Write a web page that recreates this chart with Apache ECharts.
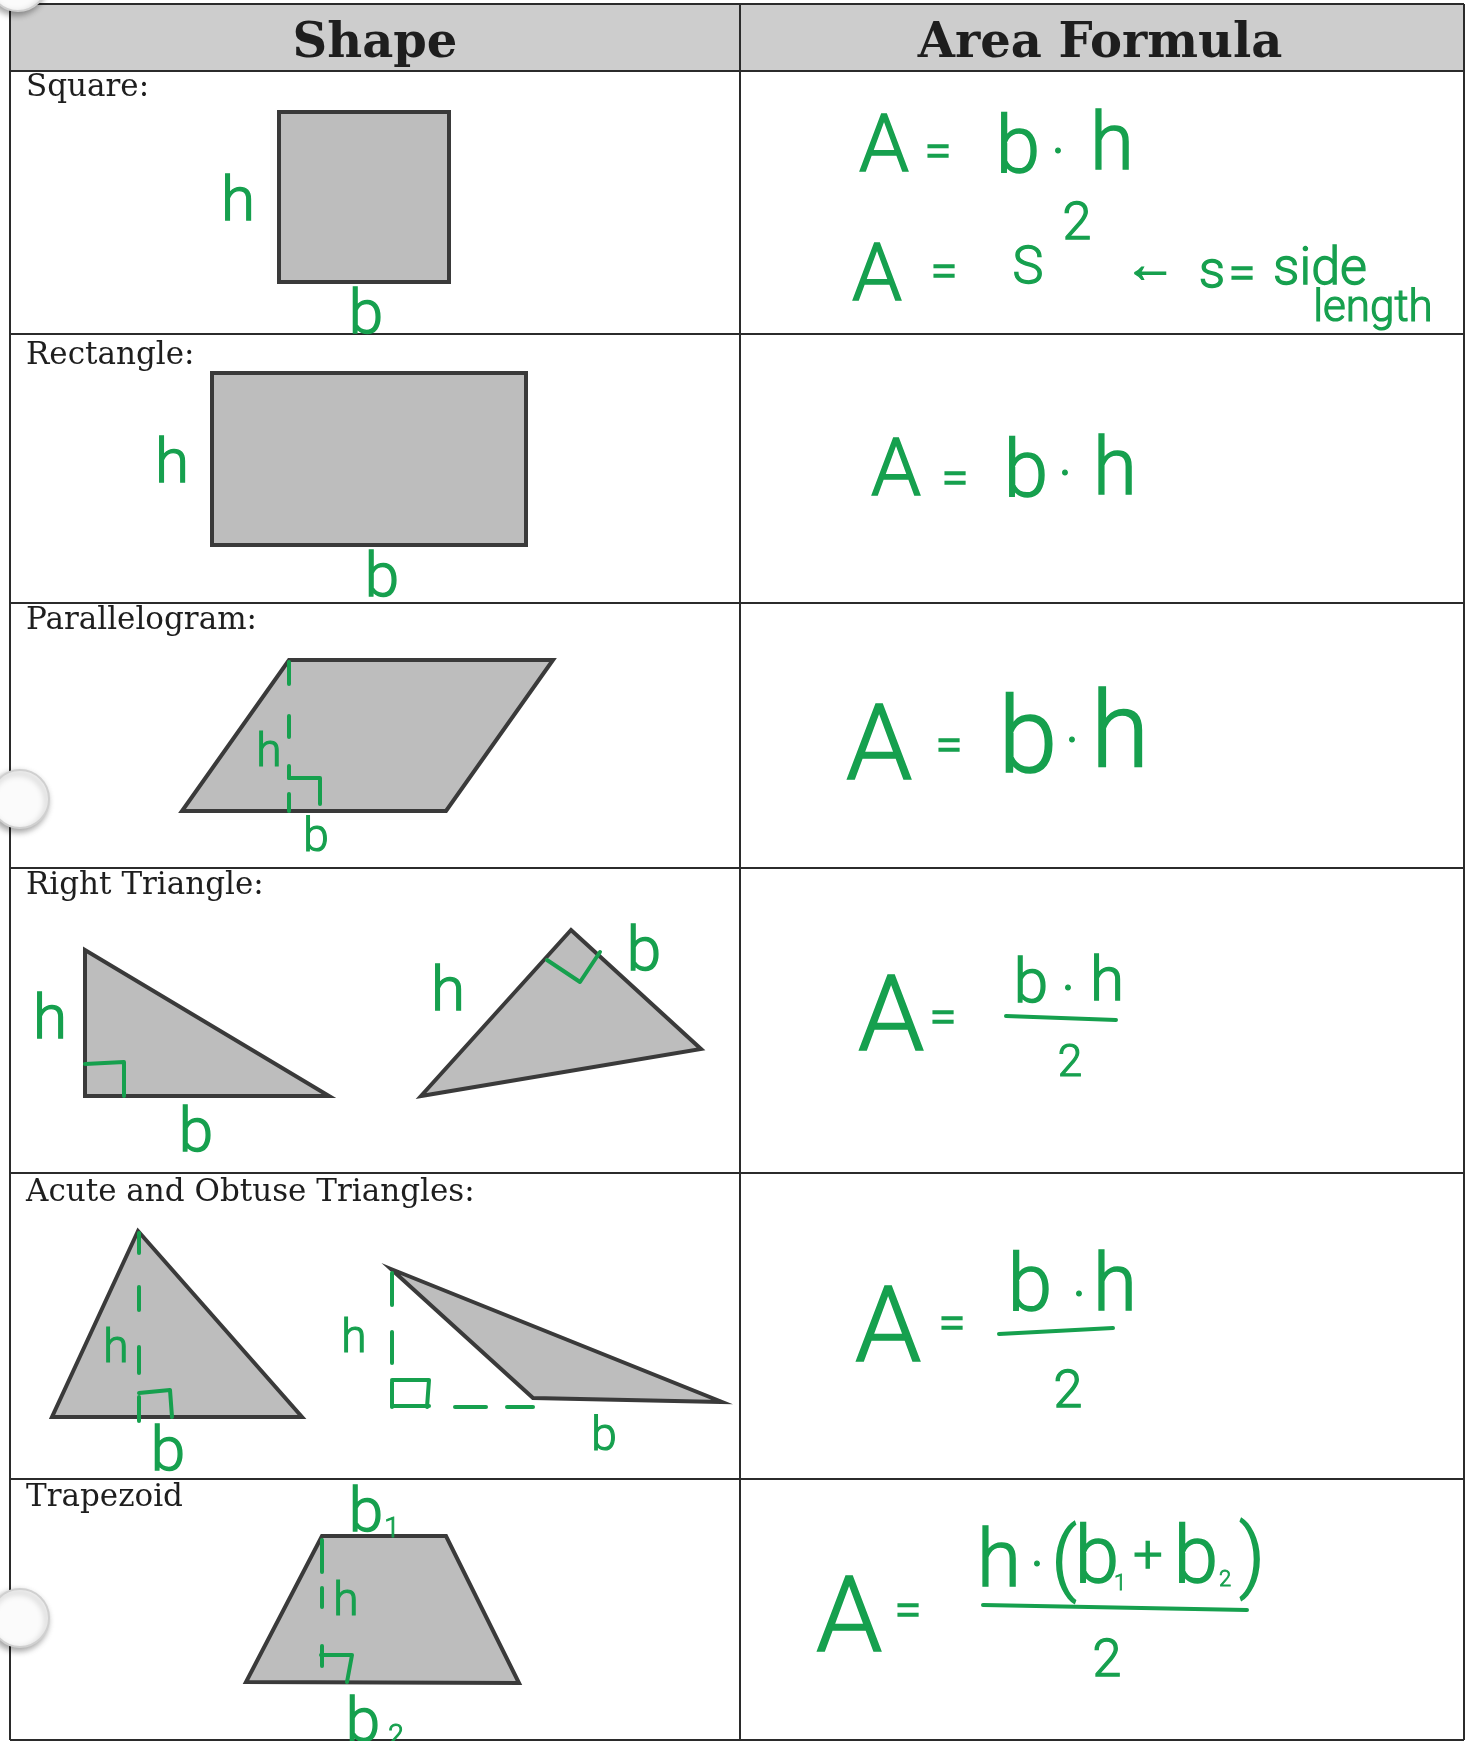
<!DOCTYPE html>
<html><head><meta charset="utf-8">
<script src="https://cdn.jsdelivr.net/npm/echarts@6/dist/echarts.min.js"></script>
<style>html,body{margin:0;padding:0;background:#fff}#c{width:1473px;height:1741px}</style>
</head><body><div id="c"></div>
<script>
// ---------- table structure ----------
const colEdges = [10, 740, 1464];
const rowEdges = [4, 71, 334, 603, 868, 1173, 1479, 1740];
const headerTexts = [[375, 41, 'Shape'], [1100, 41, 'Area Formula']];
const rowLabels = [
  [26, 86, 'Square:'], [26, 354, 'Rectangle:'], [26, 619, 'Parallelogram:'],
  [26, 884, 'Right Triangle:'], [26, 1191, 'Acute and Obtuse Triangles:'], [26, 1496, 'Trapezoid']
];

// ---------- shapes (vertex lists) ----------
const square = [[279,112],[449,112],[449,282],[279,282]];
const rectangle = [[212,373],[526,373],[526,545],[212,545]];
const parallelogram = [[289,660],[553,660],[446,811],[182,811]];
const rightTriangleA = [[85,950],[85,1096],[329,1096]];
const rightTriangleB = [[571,930],[701,1049],[421,1096]];
const acuteTriangle = [[138,1231],[302,1417],[52,1417]];
const obtuseTriangle = [[391,1269],[722,1402],[533,1398]];
const trapezoid = [[322,1536],[446,1536],[519,1683],[246,1682]];
const shapes = [square, rectangle, parallelogram, rightTriangleA, rightTriangleB, acuteTriangle, obtuseTriangle, trapezoid];

// ---------- hand-drawn marks (altitudes, right angles, fraction bars) ----------
const markStrokes = [
  // parallelogram altitude + right angle
  [[289,662],[289,684]], [[289,716],[289,737]], [[289,766],[289,778]], [[289,794],[289,811]],
  [[289,778],[320,778],[320,804]],
  // right triangles
  [[85,1064],[124,1062],[124,1096]],
  [[547,960],[580,982],[600,952]],
  // acute triangle altitude + box
  [[139,1233],[139,1253]], [[139,1287],[139,1310]], [[139,1347],[139,1373]], [[139,1397],[139,1421]],
  [[139,1393],[170,1390],[172,1417]],
  // obtuse triangle altitude + box + extension
  [[392,1273],[392,1305]], [[392,1332],[392,1363]], [[392,1382],[392,1407]],
  [[392,1380],[429,1380],[427,1407]], [[392,1406],[429,1406]],
  [[455,1407],[486,1407]], [[507,1407],[533,1407]],
  // trapezoid altitude + right angle
  [[322,1540],[322,1572]], [[322,1588],[322,1607]], [[322,1646],[322,1666]],
  [[321,1655],[352,1655],[347,1682]],
  // fraction bars
  [[1006,1016],[1116,1020]],
  [[999,1334],[1113,1328]],
  [[983,1605],[1247,1610]]
];

// ---------- handwritten labels in shape column ----------
const shapeLabelsLarge = [
  [238,197,'h'], [366,310,'b'], [172,459,'h'], [382,573,'b'],
  [50,1015,'h'], [196,1128,'b'], [448,987,'h'], [644,947,'b'],
  [168,1447,'b'], [366,1508,'b'], [363,1718,'b']
];
const shapeLabelsSmall = [
  [269,749,'h'], [316,834,'b'], [116,1345,'h'], [354,1335,'h'], [604,1433,'b'], [346,1598,'h']
];

// ---------- handwritten formulas ----------
const formulaHuge = [
  [879,740,'A'], [1028,733,'b'], [1120,728,'h'],
  [891,1011,'A'], [888,1322,'A'], [849,1612,'A']
];
const formulaBig = [
  [884,142,'A'], [1018,143,'b'], [1112,140,'h'],
  [877,271,'A'],
  [896,466,'A'], [1026,467,'b'], [1115,465,'h'],
  [1030,1281,'b'], [1115,1281,'h'],
  [999,1557,'h'], [1064,1556,'('], [1097,1553,'b'], [1196,1553,'b'], [1252,1553,')']
];
const formulaMid = [[1031,979,'b'], [1107,977,'h']];
const formulaSmall = [
  [1028,264,'S'], [1077,220,'2'], [1150,263,'←'], [1212,268,'s'], [1320,265,'side'],
  [1068,1388,'2'], [1107,1657,'2'], [1148,1553,'+']
];
const formulaTiny = [[1373,305,'length'], [1070,1060,'2']];
const equalsSigns = [
  [938,150,'='], [944,270,'='], [1242,272,'='], [955,477,'='], [949,744,'='],
  [943,1016,'='], [952,1322,'='], [908,1609,'=']
];
const dots = [[1058,150,'•'], [1065,472,'•'], [1072,739,'•'], [1068,987,'•'], [1079,1293,'•'], [1037,1563,'•']];
const formulaSubscripts = [[1120,1582,'1'], [1225,1578,'2']];
const shapeSubscripts = [[392,1527,'1'], [396,1734,'2']];

// ---------- binder holes ----------
const holes = [[18,-18], [20,799], [20,1618]];

// ---------- styles ----------
const GREEN = '#16a04e';
function hand(size, thick) {
  return {fontFamily: 'Roboto', fontWeight: 300, fontSize: size, fill: GREEN,
    stroke: GREEN, lineWidth: thick, dy: Math.round(size * 0.11)};
}

const chart = echarts.init(document.getElementById('c'), null, {renderer: 'canvas'});

function polySeries(name, list, style, type) {
  return {
    type: 'custom', name, silent: true, clip: false,
    data: list.map(p => [p[0][0], p[0][1]]),
    renderItem: (params, api) => ({
      type: type,
      shape: {points: list[params.dataIndex].map(p => api.coord(p))},
      style: Object.assign({}, style)
    })
  };
}
function textSeries(name, list, style) {
  const dy = style.dy || 0;
  const st = Object.assign({}, style); delete st.dy;
  return {
    type: 'custom', name, silent: true, clip: false,
    data: list.map(d => [d[0], d[1]]),
    renderItem: (params, api) => {
      const d = list[params.dataIndex];
      const p = api.coord([d[0], d[1]]);
      return {type: 'text', x: p[0], y: p[1] + dy,
        style: Object.assign({text: d[2], align: 'center', verticalAlign: 'middle'}, st)};
    }
  };
}

const tableSegs = [
  ...rowEdges.map(y => [[colEdges[0], y], [colEdges[colEdges.length - 1], y]]),
  ...colEdges.map(x => [[x, rowEdges[0]], [x, rowEdges[rowEdges.length - 1]]])
];
const headerBand = [[
  [colEdges[0], rowEdges[0]], [colEdges[2], rowEdges[0]], [colEdges[2], rowEdges[1]], [colEdges[0], rowEdges[1]]
]];

chart.setOption({
  animation: false,
  backgroundColor: '#ffffff',
  grid: {left: 0, right: 0, top: 0, bottom: 0},
  xAxis: {type: 'value', min: 0, max: 1473, show: false},
  yAxis: {type: 'value', min: 0, max: 1741, inverse: true, show: false},
  series: [
    polySeries('header band', headerBand, {fill: '#cdcdcd'}, 'polygon'),
    polySeries('shapes', shapes, {fill: '#bdbdbd', stroke: '#3a3a3a', lineWidth: 4, lineJoin: 'miter'}, 'polygon'),
    polySeries('table lines', tableSegs, {stroke: '#2b2b2b', lineWidth: 2, fill: null}, 'polyline'),
    polySeries('marks', markStrokes, {stroke: GREEN, lineWidth: 4, lineCap: 'round', lineJoin: 'round', fill: null}, 'polyline'),
    textSeries('headers', headerTexts, {fontFamily: 'DejaVu Serif', fontWeight: 'bold', fontSize: 48, fill: '#1e1e1e', dy: 4}),
    textSeries('row labels', rowLabels, {fontFamily: 'DejaVu Serif', fontSize: 31, fill: '#1e1e1e', align: 'left', dy: 2}),
    textSeries('shape labels L', shapeLabelsLarge, hand(62, 1.4)),
    textSeries('shape labels S', shapeLabelsSmall, hand(46, 1.2)),
    textSeries('formula huge', formulaHuge, hand(106, 1.6)),
    textSeries('formula big', formulaBig, hand(80, 1.5)),
    textSeries('formula mid', formulaMid, hand(62, 1.4)),
    textSeries('formula small', formulaSmall, hand(52, 1.3)),
    textSeries('formula tiny', formulaTiny, hand(44, 1.2)),
    textSeries('equals', equalsSigns, hand(48, 1.6)),
    textSeries('dots', dots, hand(26, 1)),
    textSeries('formula subscripts', formulaSubscripts, hand(22, 0.8)),
    textSeries('shape subscripts', shapeSubscripts, hand(28, 1)),
    {
      type: 'custom', name: 'holes', silent: true, clip: false,
      data: holes,
      renderItem: (params, api) => {
        const p = api.coord([api.value(0), api.value(1)]);
        return {type: 'circle', shape: {cx: p[0], cy: p[1], r: 29},
          style: {fill: '#fbfbfb', stroke: '#d0d0d0', lineWidth: 2,
            shadowBlur: 6, shadowColor: 'rgba(0,0,0,0.35)', shadowOffsetX: -2, shadowOffsetY: 3}};
      }
    }
  ]
});
</script></body></html>
